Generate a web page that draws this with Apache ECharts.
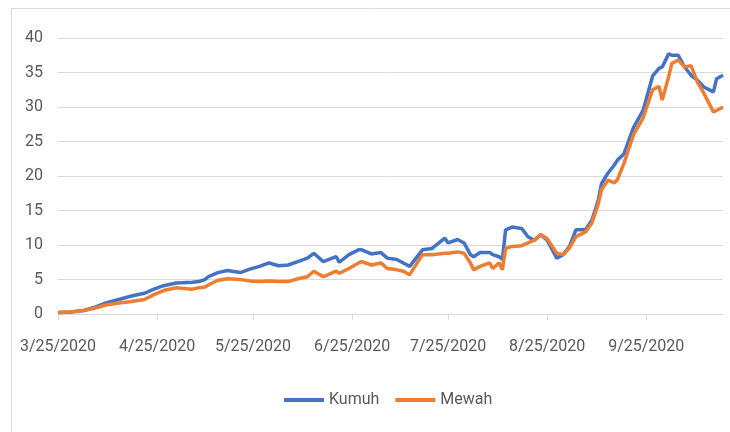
<!DOCTYPE html>
<html>
<head>
<meta charset="utf-8">
<script src="https://cdn.jsdelivr.net/npm/echarts@6/dist/echarts.min.js"></script>
<style>
html,body{margin:0;padding:0;background:#fff;}
#chart{width:730px;height:432px;}
</style>
</head>
<body>
<div id="chart"></div>
<script>
// Data
var dates = ['2020-03-25','2020-03-29','2020-04-02','2020-04-05','2020-04-09','2020-04-13','2020-04-17','2020-04-21','2020-04-24','2020-04-27',
'2020-05-01','2020-05-06','2020-05-08','2020-05-10','2020-05-11','2020-05-14','2020-05-17','2020-05-21','2020-05-24','2020-05-27',
'2020-05-30','2020-06-02','2020-06-05','2020-06-08','2020-06-11','2020-06-13','2020-06-16','2020-06-20','2020-06-21','2020-06-24',
'2020-06-27','2020-06-28','2020-07-01','2020-07-04','2020-07-06','2020-07-09','2020-07-11','2020-07-13','2020-07-17','2020-07-20',
'2020-07-24','2020-07-25','2020-07-28','2020-07-30','2020-08-01','2020-08-02','2020-08-04','2020-08-07','2020-08-08','2020-08-10',
'2020-08-11','2020-08-12','2020-08-14','2020-08-17','2020-08-19','2020-08-21','2020-08-23','2020-08-25','2020-08-28','2020-08-30',
'2020-09-01','2020-09-03','2020-09-06','2020-09-08','2020-09-10','2020-09-11','2020-09-13','2020-09-15','2020-09-16','2020-09-18',
'2020-09-21','2020-09-24','2020-09-27','2020-09-29','2020-09-30','2020-10-02','2020-10-03','2020-10-05','2020-10-07','2020-10-09',
'2020-10-11','2020-10-13','2020-10-16','2020-10-17','2020-10-19'];
var kumuh = [0.2,0.3,0.5,0.9,1.6,2.1,2.6,3.0,3.6,4.1,
4.5,4.6,4.7,5.0,5.4,6.0,6.3,6.0,6.5,6.9,
7.4,7.0,7.1,7.6,8.1,8.8,7.6,8.3,7.5,8.6,
9.3,9.3,8.7,8.9,8.1,7.9,7.4,6.9,9.3,9.5,
11.0,10.3,10.8,10.3,8.6,8.3,8.9,8.9,8.6,8.3,
7.9,12.2,12.6,12.4,11.2,10.7,11.5,10.7,8.1,8.6,
9.8,12.2,12.2,13.6,16.5,18.9,20.4,21.6,22.3,23.2,
27.0,29.5,34.5,35.6,35.8,37.7,37.5,37.5,35.8,34.6,
33.9,32.9,32.2,34.1,34.6];
var mewah = [0.2,0.3,0.5,0.8,1.3,1.6,1.8,2.1,2.8,3.4,
3.8,3.6,3.8,3.9,4.2,4.9,5.1,5.0,4.8,4.7,
4.8,4.7,4.7,5.1,5.4,6.2,5.4,6.2,5.9,6.6,
7.4,7.6,7.1,7.4,6.6,6.4,6.2,5.7,8.6,8.6,
8.8,8.8,9.0,8.8,7.4,6.4,6.9,7.4,6.6,7.4,
6.4,9.5,9.8,9.9,10.3,10.7,11.5,10.9,8.8,8.6,
9.6,11.2,11.9,13.2,16.0,18.0,19.4,19.0,19.5,21.8,
26.0,28.4,32.5,33.0,31.0,34.4,36.3,36.8,35.8,36.0,
33.6,32.0,29.3,29.5,30.0];
var tickDates = ['2020-03-25','2020-04-25','2020-05-25','2020-06-25','2020-07-25','2020-08-25','2020-09-25'];
var startDate = '2020-03-25';
var endDate = '2020-10-19';
var seriesNames = ['Kumuh','Mewah'];

var DAY = 86400000;
function ts(s){ var p = s.split('-'); return Date.UTC(+p[0], +p[1]-1, +p[2]); }
function dayOf(s){ return Math.round((ts(s) - ts(startDate)) / DAY); }
function pairs(vals){ return dates.map(function(d,i){ return [dayOf(d), vals[i]]; }); }
var tickVals = tickDates.map(dayOf);
function fmt(v){ var d = new Date(ts(startDate) + Math.round(v) * DAY); return (d.getUTCMonth()+1) + '/' + d.getUTCDate() + '/' + d.getUTCFullYear(); }

var chart = echarts.init(document.getElementById('chart'));
var textColor = '#595959';
chart.setOption({
  animation: false,
  backgroundColor: '#fff',
  graphic: [{
    type: 'rect', silent: true,
    shape: {x: 11.5, y: 8.5, width: 740, height: 440},
    style: {fill: 'none', stroke: '#d9d9d9', lineWidth: 1}
  }],
  grid: {left: 58, right: 7, top: 38, bottom: 118, containLabel: false},
  legend: {
    data: seriesNames.map(function(n){ return {name: n, icon: 'rect'}; }),
    left: 279, top: 387,
    itemWidth: 40, itemHeight: 4, itemGap: 16,
    textStyle: {color: textColor, fontSize: 16, fontFamily: 'Roboto'}
  },
  xAxis: {
    type: 'value',
    min: 0, max: dayOf(endDate),
    axisLine: {show: true, lineStyle: {color: '#d9d9d9', width: 1}},
    axisTick: {show: true, customValues: tickVals, length: 6, lineStyle: {color: '#d9d9d9'}},
    splitLine: {show: false},
    axisLabel: {
      customValues: tickVals,
      margin: 25,
      color: textColor, fontSize: 16, fontFamily: 'Roboto',
      formatter: fmt
    }
  },
  yAxis: {
    type: 'value', min: 0, max: 40, interval: 5,
    axisLine: {show: false}, axisTick: {show: false},
    splitLine: {lineStyle: {color: '#d9d9d9', width: 1}},
    axisLabel: {color: textColor, fontSize: 16, fontFamily: 'Roboto', margin: 15}
  },
  series: [
    {name: seriesNames[0], type: 'line', data: pairs(kumuh), showSymbol: false, symbol: 'none',
     lineStyle: {color: '#4472C4', width: 3.5}, itemStyle: {color: '#4472C4'}},
    {name: seriesNames[1], type: 'line', data: pairs(mewah), showSymbol: false, symbol: 'none',
     lineStyle: {color: '#ED7D31', width: 3.5}, itemStyle: {color: '#ED7D31'}}
  ]
});
</script>
</body>
</html>
